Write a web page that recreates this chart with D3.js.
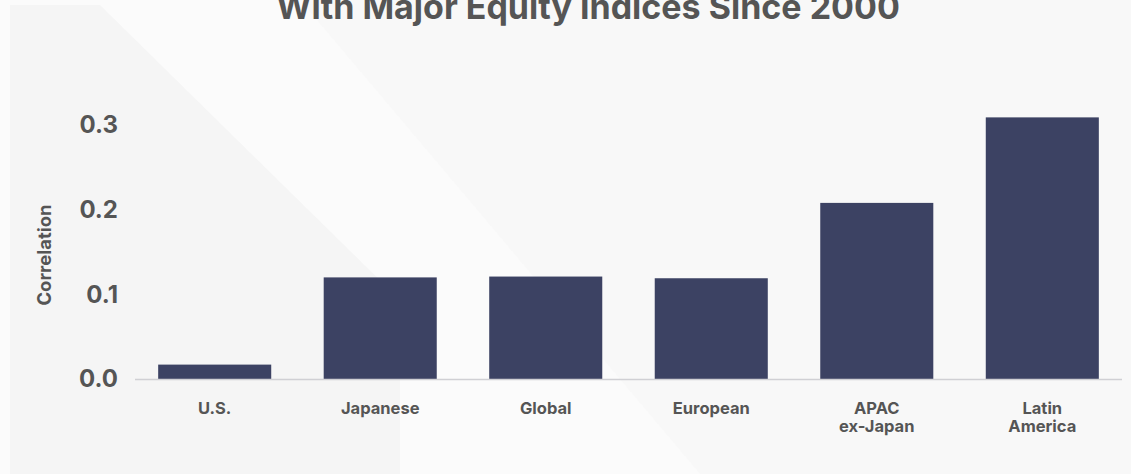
<!DOCTYPE html>
<html>
<head>
<meta charset="utf-8">
<script src="https://cdn.jsdelivr.net/npm/d3@7"></script>
<style>
  body { margin: 0; background: #fafafa; }
  svg { display: block; font-family: Inter, "Noto Sans", sans-serif; }
</style>
</head>
<body>
<div id="chart"></div>
<script>
// Data
const categories = [["U.S."], ["Japanese"], ["Global"], ["European"], ["APAC", "ex-Japan"], ["Latin", "America"]];
const correlations = [0.017, 0.12, 0.121, 0.119, 0.208, 0.309];
const yTicks = [0, 0.1, 0.2, 0.3];
const titleText = "With Major Equity Indices Since 2000";

const w = 1131; // window width
const h = 474;  // window height
const margin = { top: 40, right: 9, bottom: 95, left: 135 };

const svg = d3.select("#chart")
  .append("svg")
  .attr("width", w)
  .attr("height", h);

// faint background shapes
const bg = svg.append("g");
bg.append("rect").attr("width", w).attr("height", h).attr("fill", "#fbfbfb");
bg.append("path")
  .attr("d", "M10,5 L100,5 L400,300 L400,474 L10,474 Z")
  .attr("fill", "#f5f5f5");
bg.append("path")
  .attr("d", "M300,0 L1131,0 L1131,474 L700,474 Z")
  .attr("fill", "#f7f7f7")
  .attr("opacity", 0.6);

const x = d3.scaleBand()
  .domain(categories.map((d) => d.join(" ")))
  .range([margin.left, w - margin.right])
  .paddingInner(0.317)
  .paddingOuter(0.14);

const y = d3.scaleLinear()
  .domain([0, 0.3])
  .range([379, 125]);

// Title (first line is cut off above the picture)
svg.append("text")
  .attr("x", 588)
  .attr("y", 19)
  .attr("text-anchor", "middle")
  .attr("font-size", 34)
  .attr("font-weight", 700)
  .attr("fill", "#555555")
  .text(titleText);

// Bars
svg.append("g")
  .selectAll("rect")
  .data(correlations)
  .enter()
  .append("rect")
  .attr("x", (d, i) => x(categories[i].join(" ")))
  .attr("y", (d) => y(d))
  .attr("width", x.bandwidth())
  .attr("height", (d) => y(0) - y(d))
  .attr("fill", "#3c4263");

// Baseline
svg.append("line")
  .attr("x1", margin.left)
  .attr("x2", w - margin.right)
  .attr("y1", y(0) + 0.5)
  .attr("y2", y(0) + 0.5)
  .attr("stroke", "#d0d0d4")
  .attr("stroke-width", 1.5);

// Y axis
const yAxis = svg.append("g")
  .attr("transform", `translate(${margin.left},0)`)
  .call(d3.axisLeft(y).tickValues(yTicks).tickFormat(d3.format(".1f")).tickSize(0).tickPadding(17));
yAxis.select(".domain").remove();
yAxis.selectAll("text")
  .attr("font-family", "Inter, sans-serif")
  .attr("font-size", 24)
  .attr("font-weight", 700)
  .attr("fill", "#555555");

// Y axis title
svg.append("text")
  .attr("transform", "translate(51,255) rotate(-90)")
  .attr("text-anchor", "middle")
  .attr("font-size", 18.5)
  .attr("font-weight", 700)
  .attr("fill", "#555555")
  .text("Correlation");

// X labels
const xLabels = svg.append("g")
  .selectAll("text")
  .data(categories)
  .enter()
  .append("text")
  .attr("x", (d) => x(d.join(" ")) + x.bandwidth() / 2)
  .attr("y", 414)
  .attr("text-anchor", "middle")
  .attr("font-size", 16.5)
  .attr("font-weight", 700)
  .attr("fill", "#555555");
xLabels.selectAll("tspan")
  .data((d) => d)
  .enter()
  .append("tspan")
  .attr("x", function () { return d3.select(this.parentNode).attr("x"); })
  .attr("dy", (d, i) => (i === 0 ? 0 : 18))
  .text((d) => d);
</script>
</body>
</html>
